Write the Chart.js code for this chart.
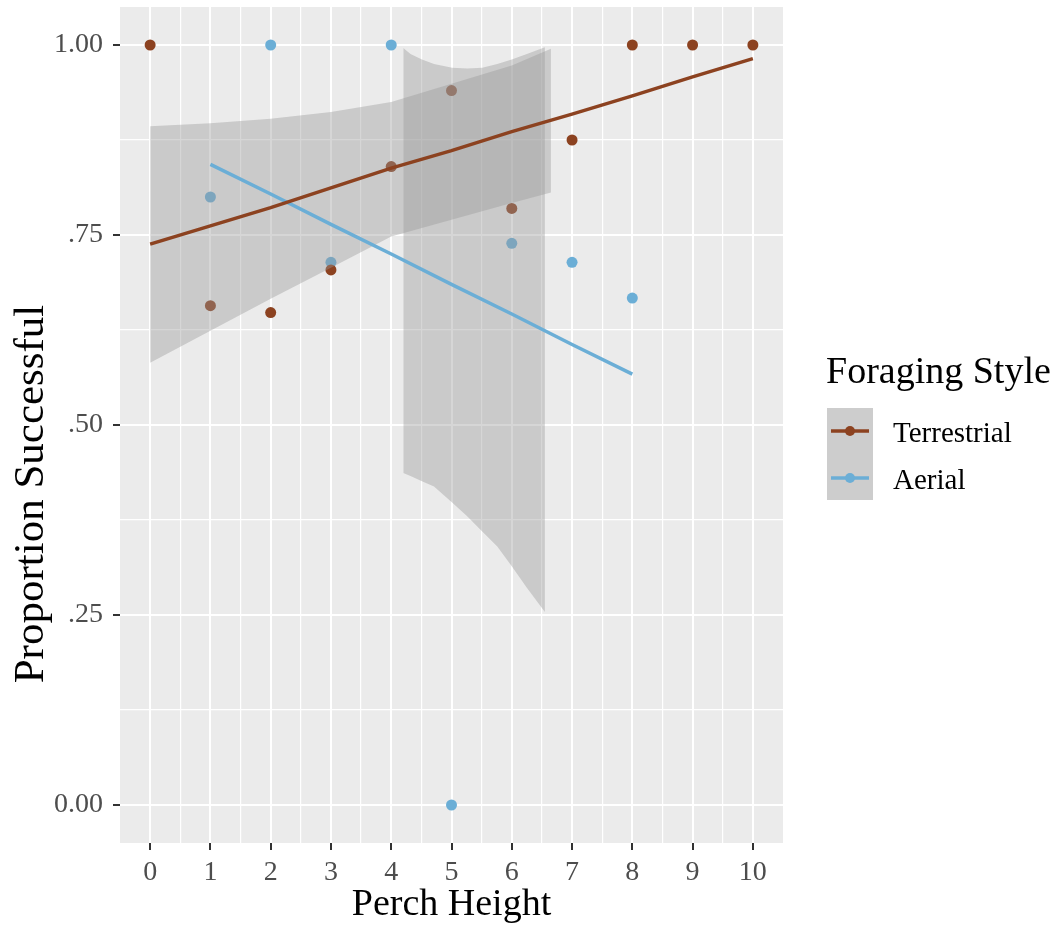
<!DOCTYPE html>
<html><head><meta charset="utf-8">
<script src="https://cdn.jsdelivr.net/npm/chart.js@4.4.1/dist/chart.umd.min.js"></script>
<style>html,body{margin:0;padding:0;background:#fff;}canvas{display:block;}</style>
</head><body>
<canvas id="c" width="1063" height="934"></canvas>
<script>
// ---- data ----
const perchHeight     = [0,1,2,3,4,5,6,7,8,9,10];
const terrestrialObs  = [1.000,0.657,0.648,0.704,0.840,0.940,0.785,0.875,1.000,1.000,1.000];
const aerialHeight    = [1,2,3,4,5,6,7,8];
const aerialObs       = [0.800,1.000,0.714,1.000,0.000,0.739,0.714,0.667];
const terrestrialFit  = [0.738,0.762,0.786,0.812,0.838,0.861,0.886,0.909,0.933,0.958,0.982];
const aerialFit       = [0.843,0.804,0.764,0.725,0.685,0.646,0.606,0.567];
const terrBandX  = [0,1,2,3,4,5,6,6.65];
const terrBandHi = [0.893,0.897,0.903,0.912,0.925,0.949,0.973,0.995];
const terrBandLo = [0.582,0.624,0.666,0.707,0.748,0.770,0.792,0.806];
const aerBandX   = [4.20,4.32,4.51,4.71,5.01,5.26,5.51,5.76,6.00,6.25,6.55];
const aerBandHi  = [0.996,0.988,0.981,0.975,0.970,0.969,0.970,0.975,0.981,0.988,0.997];
const aerBandLo  = [0.437,0.433,0.426,0.419,0.398,0.380,0.360,0.340,0.314,0.286,0.254];
const xTicks      = [0,1,2,3,4,5,6,7,8,9,10];
const xTickLabels = ['0','1','2','3','4','5','6','7','8','9','10'];
const yTicks      = [0,0.25,0.5,0.75,1];
const yTickLabels = ['0.00','.25','.50','.75','1.00'];
const seriesNames = ['Terrestrial','Aerial'];
const seriesColors = ['#8C4220','#6BAED6'];
const bandFill = 'rgba(153,153,153,0.4)';

const FONT = "'Liberation Serif','Times New Roman',serif";
const pts = (xs, ys) => xs.map((x,i)=>({x:x, y:ys[i]}));
const mids = a => a.slice(1).map((v,i)=>(v+a[i])/2);
const xAll = xTicks.concat(mids(xTicks)).sort((a,b)=>a-b);
const yAll = yTicks.concat(mids(yTicks)).sort((a,b)=>a-b);
const isMajorX = v => xTicks.indexOf(v) >= 0;
const isMajorY = v => yTicks.indexOf(v) >= 0;

const panelBg = {
  id:'panelBg',
  beforeDraw(chart){
    const {ctx, chartArea:a} = chart;
    ctx.save(); ctx.fillStyle='#EBEBEB';
    ctx.fillRect(a.left, a.top, a.right-a.left, a.bottom-a.top);
    ctx.restore();
  }
};
const extras = {
  id:'extras',
  afterDraw(chart){
    const ctx = chart.ctx;
    ctx.save();
    // y-axis title
    ctx.fillStyle='#000';
    ctx.font = "43px " + FONT;
    ctx.textAlign='center'; ctx.textBaseline='alphabetic';
    ctx.translate(43, 494); ctx.rotate(-Math.PI/2);
    ctx.fillText('Proportion Successful', 0, 0);
    ctx.restore();
    // legend
    ctx.save();
    ctx.fillStyle='#000';
    ctx.font = "38px " + FONT;
    ctx.textAlign='left'; ctx.textBaseline='alphabetic';
    ctx.fillText('Foraging Style', 826, 383);
    ctx.fillStyle='#CDCDCD';
    ctx.fillRect(827, 408, 46, 92);
    const keyY = [431, 478];
    const labY = [442, 489];
    ctx.font = "29px " + FONT;
    seriesNames.forEach((n,i)=>{
      ctx.strokeStyle = seriesColors[i]; ctx.lineWidth = 3.5;
      ctx.beginPath(); ctx.moveTo(831, keyY[i]); ctx.lineTo(869, keyY[i]); ctx.stroke();
      ctx.fillStyle = seriesColors[i];
      ctx.beginPath(); ctx.arc(850, keyY[i], 5, 0, Math.PI*2); ctx.fill();
      ctx.fillStyle = '#000';
      ctx.fillText(n, 893, labY[i]);
    });
    ctx.restore();
  }
};

const zeroPad = s => { s.paddingTop = 0; s.paddingBottom = 0; s.paddingLeft = 0; s.paddingRight = 0; };

new Chart(document.getElementById('c'), {
  type:'scatter',
  data:{
    datasets:[
      {label:'Terrestrial obs', data:pts(perchHeight, terrestrialObs), order:3,
       pointRadius:5.5, pointBorderWidth:0, backgroundColor:seriesColors[0], borderColor:seriesColors[0]},
      {label:'Aerial obs', data:pts(aerialHeight, aerialObs), order:3,
       pointRadius:5.5, pointBorderWidth:0, backgroundColor:seriesColors[1], borderColor:seriesColors[1]},
      {label:'Terr hi', data:pts(terrBandX, terrBandHi), order:2, showLine:true, borderWidth:0,
       pointRadius:0, borderColor:'rgba(0,0,0,0)', fill:{target:3}, backgroundColor:bandFill},
      {label:'Terr lo', data:pts(terrBandX, terrBandLo), order:2, showLine:true, borderWidth:0,
       pointRadius:0, borderColor:'rgba(0,0,0,0)', fill:false},
      {label:'Aer hi', data:pts(aerBandX, aerBandHi), order:2, showLine:true, borderWidth:0,
       pointRadius:0, borderColor:'rgba(0,0,0,0)', fill:{target:5}, backgroundColor:bandFill},
      {label:'Aer lo', data:pts(aerBandX, aerBandLo), order:2, showLine:true, borderWidth:0,
       pointRadius:0, borderColor:'rgba(0,0,0,0)', fill:false},
      {label:'Terrestrial', data:pts(perchHeight, terrestrialFit), order:1, showLine:true,
       borderWidth:3.5, borderColor:seriesColors[0], pointRadius:0, fill:false},
      {label:'Aerial', data:pts(aerialHeight, aerialFit), order:1, showLine:true,
       borderWidth:3.5, borderColor:seriesColors[1], pointRadius:0, fill:false}
    ]
  },
  options:{
    responsive:false, animation:false, devicePixelRatio:1,
    layout:{padding:{top:7, right:280, bottom:0, left:0}},
    plugins:{legend:{display:false}, tooltip:{enabled:false}},
    scales:{
      x:{
        type:'linear', min:-0.5, max:10.5,
        afterFit(s){ s.height = 91; zeroPad(s); },
        afterBuildTicks(s){ s.ticks = xAll.map(v=>({value:v})); },
        border:{display:false},
        grid:{
          color:'#FFFFFF',
          lineWidth: c => isMajorX(c.tick.value) ? 2 : 1.2,
          tickColor: c => isMajorX(c.tick.value) ? '#333333' : 'rgba(0,0,0,0)',
          tickWidth: 2, tickLength:7, drawTicks:true
        },
        ticks:{
          autoSkip:false, maxRotation:0, padding:6, color:'#4D4D4D',
          font:{family:FONT, size:28},
          callback: v => { const i = xTicks.indexOf(v); return i>=0 ? xTickLabels[i] : ''; }
        },
        title:{display:true, text:'Perch Height', color:'#000', font:{family:FONT, size:38}, padding:{top:0,bottom:6}}
      },
      y:{
        type:'linear', min:-0.05, max:1.05,
        afterFit(s){ s.width = 120; zeroPad(s); },
        afterBuildTicks(s){ s.ticks = yAll.map(v=>({value:v})); },
        border:{display:false},
        grid:{
          color:'#FFFFFF',
          lineWidth: c => isMajorY(c.tick.value) ? 2 : 1.2,
          tickColor: c => isMajorY(c.tick.value) ? '#333333' : 'rgba(0,0,0,0)',
          tickWidth: 2, tickLength:7, drawTicks:true
        },
        ticks:{
          autoSkip:false, padding:10, color:'#4D4D4D',
          font:{family:FONT, size:28},
          callback: v => { const i = yTicks.indexOf(v); return i>=0 ? yTickLabels[i] : ''; }
        }
      }
    }
  },
  plugins:[panelBg, extras]
});
</script>
</body></html>
